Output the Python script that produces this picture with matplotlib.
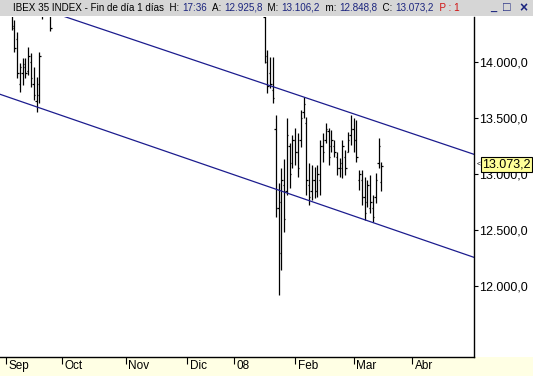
import numpy as np
import pandas as pd
import matplotlib
matplotlib.use('Agg')
import matplotlib.pyplot as plt
from matplotlib.patches import Rectangle
import matplotlib.transforms as mtransforms

plt.rcParams['font.family'] = ['Liberation Sans', 'DejaVu Sans']

# === calendario de sesiones (eje x por sesión) ===
festivos = ['2007-12-24', '2007-12-25', '2007-12-26', '2007-12-31', '2008-01-01']
sesiones = pd.bdate_range('2007-09-03', '2008-04-30')
sesiones = sesiones[~sesiones.isin(pd.to_datetime(festivos))]

meses = ['2007-09', '2007-10', '2007-11', '2007-12', '2008-01', '2008-02', '2008-03', '2008-04']
etiquetas_mes = ['Sep', 'Oct', 'Nov', 'Dic', '08', 'Feb', 'Mar', 'Abr']

# === datos OHLC (IBEX 35, diario) ===
fechas = ['2007-09-05', '2007-09-06', '2007-09-07', '2007-09-10', '2007-09-11', '2007-09-12',
          '2007-09-13', '2007-09-14', '2007-09-17', '2007-09-18', '2007-09-19', '2007-09-20',
          '2007-09-21', '2007-09-24', '2007-09-25', '2007-09-26',
          '2008-01-17', '2008-01-18', '2008-01-21', '2008-01-22', '2008-01-23', '2008-01-24',
          '2008-01-25', '2008-01-28', '2008-01-29', '2008-01-30', '2008-01-31', '2008-02-01',
          '2008-02-04', '2008-02-05', '2008-02-06', '2008-02-07', '2008-02-08', '2008-02-11',
          '2008-02-12', '2008-02-13', '2008-02-14', '2008-02-15', '2008-02-18', '2008-02-19',
          '2008-02-20', '2008-02-21', '2008-02-22', '2008-02-25', '2008-02-26', '2008-02-27',
          '2008-02-28', '2008-02-29', '2008-03-03', '2008-03-04', '2008-03-05', '2008-03-06',
          '2008-03-07', '2008-03-10', '2008-03-11', '2008-03-12', '2008-03-13', '2008-03-14',
          '2008-03-17']
maximos = [14560, 14370, 14260, 13985, 14030, 14030, 14130, 14075, 13950, 13860, 14085, 14620,
           14700, 14720, 14650, 14800,
           14550, 14100, 14040, 14040, 13525, 12920, 13055, 13130, 13500, 13280, 13350, 13410,
           13365, 13570, 13685, 13505, 13100, 13080, 13060, 13080, 13300, 13365, 13455, 13410,
           13390, 13300, 13195, 13140, 13300, 13215, 13375, 13525, 13500, 13480, 13035, 13035,
           12975, 12945, 12990, 12815, 13010, 13320, 13106.2]
minimos = [14280, 14085, 13855, 13730, 13790, 13855, 13880, 13775, 13660, 13550, 13630, 14380,
           14470, 14520, 14270, 14500,
           13990, 13720, 13765, 13630, 12620, 11925, 12150, 12480, 12810, 12880, 13050, 13080,
           12975, 13240, 13500, 12815, 12725, 12770, 12785, 12795, 12815, 13105, 13275, 13080,
           13195, 13150, 12990, 12975, 12965, 12990, 13195, 13260, 13195, 13105, 12860, 12725,
           12590, 12705, 12655, 12575, 12740, 13050, 12848.8]
aperturas = [14500, 14300, 14200, 13800, 13900, 13950, 13920, 14000, 13800, 13650, 13700, 14420,
             14550, 14600, 14600, 14550,
             14400, 14000, 13900, 13750, 13400, 12700, 12300, 12900, 12850, 13250, 13100, 13300,
             13200, 13300, 13550, 13450, 12900, 12850, 12950, 12850, 12950, 13250, 13300, 13380,
             13250, 13250, 13150, 13050, 13050, 13150, 13200, 13350, 13400, 13300, 12950, 12950,
             12800, 12750, 12700, 12700, 12800, 13100, 12925.8]
cierres = [14320, 14120, 13900, 13950, 13980, 13900, 14050, 13850, 13700, 13800, 14050, 14550,
           14600, 14650, 14300, 14700,
           14050, 13780, 13800, 13680, 12700, 12750, 12950, 12600, 13350, 13000, 13300, 13200,
           13050, 13500, 13620, 12950, 12800, 12950, 12850, 13000, 13250, 13200, 13400, 13150,
           13300, 13200, 13050, 13100, 13250, 13050, 13300, 13400, 13300, 13150, 13000, 12800,
           12650, 12900, 12750, 12620, 12950, 13250, 13073.2]

# === canal bajista (sesión, precio) ===
canal_sup_x = [-2.16, 168.3]
canal_sup_y = [14593, 13175]
canal_inf_x = [-2.16, 168.3]
canal_inf_y = [13709, 12259]

yticks = [12000, 12500, 13000, 13500, 14000]
ultimo = 13073.2

def fmt_es(v):
    return f'{v:,.1f}'.replace(',', 'X').replace('.', ',').replace('X', '.')

pos = pd.Series(np.arange(len(sesiones)), index=sesiones)
x = pos[pd.to_datetime(fechas)].values
xmes = [pos[sesiones[sesiones.strftime('%Y-%m') == m][0]] for m in meses]

W, H = 533, 376
fig = plt.figure(figsize=(W / 100, H / 100), dpi=100)
fig.patch.set_facecolor('white')

# bandas de fondo (título y eje inferior)
fig.patches.append(Rectangle((0, 1 - 16 / H), 1, 16 / H, transform=fig.transFigure,
                             facecolor='#d6d6d6', edgecolor='none', zorder=-5))
fig.patches.append(Rectangle((0, 0), 1, 19 / H, transform=fig.transFigure,
                             facecolor='#ffffe4', edgecolor='none', zorder=-5))

ax = fig.add_axes([0, 19 / H, 474 / W, (357 - 17) / H])
ax.set_facecolor('white')
ax.set_xlim(-2.16, 168.3)
ax.set_ylim(11373, 14396)

ax.vlines(x, minimos, maximos, color='black', linewidth=0.9)
ax.hlines(aperturas, x - 0.5, x, color='black', linewidth=0.9)
ax.hlines(cierres, x, x + 0.5, color='black', linewidth=0.9)

ax.plot(canal_sup_x, canal_sup_y, color='#1c1c8e', linewidth=0.9)
ax.plot(canal_inf_x, canal_inf_y, color='#1c1c8e', linewidth=0.9)

for s in ['top', 'left']:
    ax.spines[s].set_visible(False)
for s in ['bottom', 'right']:
    ax.spines[s].set_color('black')
    ax.spines[s].set_linewidth(1)

ax.yaxis.tick_right()
ax.set_yticks(yticks)
ax.set_yticklabels([fmt_es(v) for v in yticks], fontsize=9)
ax.tick_params(axis='y', direction='out', length=3, width=0.8, pad=1)

ax.set_xticks(xmes)
ax.set_xticklabels([])
ax.tick_params(axis='x', direction='out', length=5, width=0.8)
trans = mtransforms.offset_copy(ax.get_xaxis_transform(), fig=fig, x=2, y=-2, units='points')
for xm, lab in zip(xmes, etiquetas_mes):
    ax.text(xm, 0, lab, transform=trans, ha='left', va='top', fontsize=8.5, clip_on=False)

# etiqueta del último precio
ax.annotate(fmt_es(ultimo), xy=(1, ultimo), xycoords=('axes fraction', 'data'),
            xytext=(6, 1), textcoords='offset points', ha='left', va='center', fontsize=9,
            annotation_clip=False, clip_on=False,
            bbox=dict(boxstyle='square,pad=0.12', facecolor='#ffff99', edgecolor='black', linewidth=0.8))
ax.annotate('<', xy=(1, ultimo), xycoords=('axes fraction', 'data'), xytext=(2, 1),
            textcoords='offset points', ha='left', va='center', fontsize=5,
            annotation_clip=False, clip_on=False)

# barra de título
partes = [('IBEX 35 INDEX - Fin de día 1 días  H: ', 'black'), ('17:36', '#1a237e'),
          ('  A: ', 'black'), ('12.925,8', '#1a237e'), ('  M: ', 'black'), ('13.106,2', '#1a237e'),
          ('  m: ', 'black'), ('12.848,8', '#1a237e'), ('  C: ', 'black'), ('13.073,2', '#1a237e'),
          ('  P : 1', '#d01010')]
prev = fig.text(13 / W, 1 - 8 / H, partes[0][0], color=partes[0][1], fontsize=7.1,
                ha='left', va='center')
for txt, col in partes[1:]:
    prev = ax.annotate(txt, xy=(1, 0.5), xycoords=prev, ha='left', va='center',
                       color=col, fontsize=7.1, annotation_clip=False, clip_on=False)
fig.text(490 / W, 1 - 8 / H, '_', color='#1a237e', fontsize=8, ha='left', va='center', fontweight='bold')
fig.text(503 / W, 1 - 8 / H, '□', color='#1a237e', fontsize=9, ha='left', va='center')
fig.text(519 / W, 1 - 8 / H, '×', color='#1a237e', fontsize=10, ha='left', va='center', fontweight='bold')

fig.savefig('out.png', dpi=100)
